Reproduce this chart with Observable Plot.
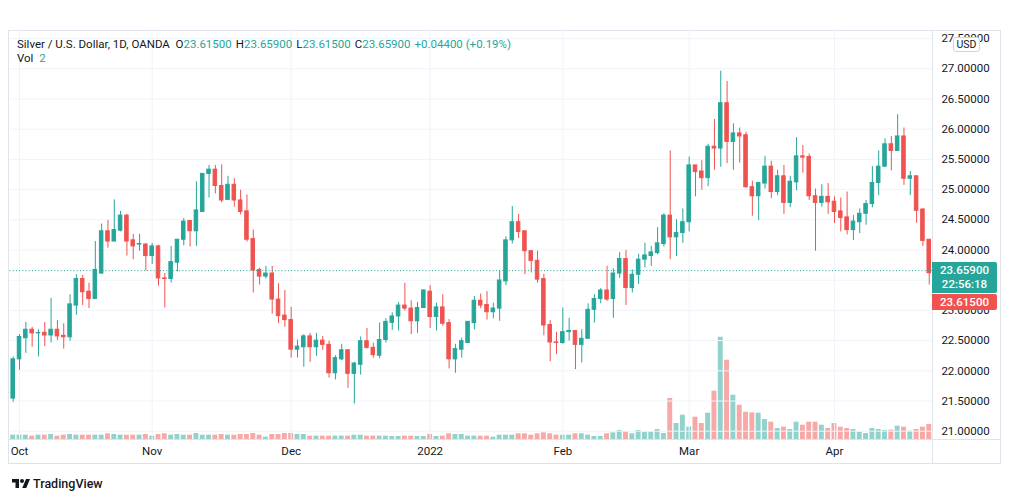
<!DOCTYPE html>
<html><head><meta charset="utf-8">
<script src="https://cdn.jsdelivr.net/npm/d3@7"></script>
<script src="https://cdn.jsdelivr.net/npm/@observablehq/plot@0.6"></script>
<style>
body{margin:0;background:#fff;width:1012px;height:501px;position:relative;overflow:hidden;font-family:Roboto,"Noto Sans",sans-serif;color:#131722}
.abs{position:absolute}
#hdr{left:17px;top:37px;font-size:11.5px;white-space:nowrap;line-height:14px}
#hdr .v{color:#26a69a}
#hdr .k{margin-left:4px}
.box{position:absolute;left:932px;width:65px;color:#fff;font-size:11.5px;font-weight:500;text-align:center;line-height:14px;border-radius:0 2px 2px 0}
</style></head><body>
<div class="abs" style="left:8px;top:30px;width:993px;height:434px;border:1px solid #e0e3eb;box-sizing:border-box"></div>
<div class="abs" style="left:932px;top:30px;width:1px;height:434px;background:#e0e3eb"></div>
<div class="abs" style="left:8px;top:439px;width:993px;height:1px;background:#e0e3eb"></div>
<div id="vol" class="abs" style="left:8px;top:30px"></div>
<div id="main" class="abs" style="left:8px;top:30px"></div>
<div id="hdr" class="abs"></div>
<div class="box" style="top:262px;height:31px;background:#26a69a;padding-top:1px;box-sizing:border-box" id="curBox"></div>
<div class="box" style="top:294px;height:16px;background:#ef5350;line-height:16px" id="prevBox"></div>
<div class="abs" style="left:953px;top:37px;width:27px;height:15px;border:1px solid #d1d4dc;border-radius:3px;background:#fff;font-size:10.5px;line-height:13px;text-align:center;box-sizing:border-box">USD</div>
<div class="abs" style="left:12px;top:476px;width:100px;height:16px">
<svg width="18" height="14" viewBox="0 0 36 28" style="position:absolute;left:0;top:1px"><path d="M14 22H7V11H0V4h14v18z" fill="#131722"/><circle cx="20" cy="8" r="4" fill="#131722"/><path d="M28 4h8l-7.5 18H20.5L28 4z" fill="#131722"/></svg>
<span style="position:absolute;left:21px;top:0;font-size:12.5px;line-height:16px;font-weight:500">TradingView</span>
</div>
<script>
// ---- data ----
const startDate = "2021-09-30";
const holidays = ["2021-12-24"];
const open  = [21.54,22.19,22.54,22.68,22.62,22.63,22.585,22.68,22.58,22.555,23.08,23.52,23.31,23.19,23.61,24.31,24.14,24.32,24.57,24.16,24.09,24.09,23.90,24.06,23.53,23.52,23.79,24.17,24.48,24.31,24.63,25.26,25.33,25.06,24.83,25.08,24.82,24.64,24.18,23.67,23.56,23.61,23.18,22.915,22.84,22.35,22.39,22.57,22.39,22.50,22.43,21.96,22.19,22.34,21.95,22.10,22.49,22.38,22.25,22.51,22.795,22.90,23.08,23.03,22.82,23.04,23.31,22.89,23.05,22.79,22.19,22.35,22.46,22.79,23.16,23.09,22.97,23.03,23.48,24.16,24.46,24.31,23.98,23.82,23.52,22.76,22.47,22.46,22.64,22.66,22.43,22.53,23.01,23.19,23.33,23.19,23.61,23.85,23.37,23.59,23.84,23.90,23.95,24.10,24.57,24.21,24.28,24.46,25.40,25.30,25.19,25.71,25.68,26.43,25.79,25.93,25.90,25.04,24.89,25.10,25.38,24.96,25.22,24.78,25.12,25.55,25.54,24.89,24.78,24.88,24.80,24.64,24.54,24.33,24.46,24.60,24.76,25.11,25.38,25.75,25.64,25.88,25.18,25.22,24.67,24.17];
const high  = [22.23,22.60,22.80,22.72,22.68,22.80,23.20,22.83,22.78,23.26,23.59,23.58,23.45,24.14,24.43,24.49,24.83,24.64,24.59,24.26,24.26,24.11,24.11,24.08,23.61,24.06,24.17,24.52,24.49,25.13,25.26,25.40,25.40,25.41,25.22,25.18,24.99,24.91,24.33,23.70,23.73,23.73,23.44,23.33,23.05,22.51,22.60,22.62,22.62,22.57,22.49,22.25,22.44,22.35,22.14,22.56,22.70,22.46,22.79,22.86,22.96,23.13,23.45,23.16,23.13,23.34,23.41,23.12,23.26,22.85,22.44,22.54,22.82,23.23,23.27,23.31,23.12,23.65,24.22,24.72,24.59,24.31,23.98,23.98,23.60,22.83,22.64,23.04,22.87,22.66,22.68,23.11,23.26,23.36,23.73,23.69,23.96,23.99,23.67,23.93,24.11,24.06,24.37,24.60,25.64,24.50,24.68,25.54,25.40,25.48,25.75,26.16,26.96,26.79,26.09,26.02,25.95,25.14,25.12,25.55,25.47,25.32,25.40,25.22,25.86,25.73,25.59,25.01,25.08,25.10,24.88,24.86,24.96,24.57,24.68,24.82,25.38,25.64,25.84,25.88,26.24,26.02,25.30,25.22,24.69,24.17];
const low   = [21.48,22.01,22.29,22.39,22.23,22.40,22.46,22.50,22.36,22.49,22.92,23.08,23.03,23.19,23.60,24.03,24.14,24.30,23.90,23.84,23.98,23.65,23.76,23.40,23.04,23.45,23.64,24.07,24.05,24.06,24.62,24.86,24.93,24.78,24.83,24.71,24.58,24.13,23.29,23.42,23.52,22.94,22.78,22.72,22.21,22.21,22.06,22.14,22.24,22.34,21.88,21.85,22.17,21.71,21.45,21.93,22.36,22.21,22.20,22.46,22.67,22.66,22.99,22.60,22.62,23.03,22.70,22.66,22.74,22.03,21.96,22.21,22.46,22.68,23.03,22.84,22.86,22.82,23.41,24.10,24.19,23.59,23.62,23.45,22.58,22.15,22.27,22.44,22.49,22.02,22.13,22.53,22.79,23.11,23.15,22.87,23.53,23.08,23.29,23.43,23.70,23.73,23.92,24.05,23.84,23.89,24.11,24.30,24.88,24.99,25.05,25.32,25.37,25.43,25.32,25.44,25.02,24.56,24.49,25.01,24.85,24.90,24.59,24.70,24.98,25.27,24.82,23.98,24.71,24.59,24.44,24.30,24.25,24.16,24.27,24.41,24.70,24.90,25.37,25.31,25.64,25.07,24.90,24.44,24.06,23.42];
const close = [22.19,22.56,22.68,22.62,22.625,22.585,22.68,22.57,22.555,23.10,23.52,23.30,23.19,23.67,24.31,24.14,24.33,24.57,24.14,24.06,24.10,23.90,24.06,23.53,23.52,23.80,24.17,24.47,24.31,24.655,25.26,25.33,25.06,24.82,25.08,24.82,24.63,24.17,23.66,23.56,23.61,23.18,22.905,22.84,22.35,22.40,22.57,22.39,22.50,22.43,21.96,22.21,22.34,21.95,22.12,22.49,22.38,22.26,22.51,22.81,22.90,23.08,23.03,22.82,23.04,23.33,22.89,23.05,22.78,22.19,22.36,22.49,22.81,23.16,23.08,22.97,23.03,23.495,24.16,24.46,24.30,23.98,23.82,23.51,22.75,22.47,22.46,22.64,22.66,22.43,22.53,23.01,23.19,23.33,23.18,23.61,23.85,23.37,23.59,23.84,23.91,23.96,24.11,24.57,24.21,24.28,24.46,25.40,25.29,25.19,25.71,25.68,26.43,25.79,25.93,25.88,25.04,24.89,25.11,25.38,24.96,25.22,24.78,25.13,25.55,25.53,24.89,24.78,24.88,24.79,24.63,24.53,24.33,24.47,24.60,24.76,25.11,25.38,25.75,25.64,25.88,25.18,25.22,24.65,24.15,23.615];
const volume = [13,13,13,10,13,13,15,10,13,15,13,13,13,13,13,17,15,13,13,13,13,15,10,15,17,13,15,13,13,18,13,13,13,15,13,13,15,15,18,13,7,15,15,18,18,15,15,10,10,10,10,10,10,10,13,13,10,10,10,10,9,9,10,10,9,9,15,9,10,17,15,15,10,10,10,10,7,13,13,13,17,17,13,17,20,17,13,13,13,17,17,13,9,9,17,20,27,23,17,27,22,23,30,18,123,48,73,37,67,48,79,145,307,238,133,103,82,80,79,60,52,33,37,30,52,43,52,52,43,33,48,37,33,30,22,18,33,30,27,28,40,37,25,30,37,45];
const yTicks = [21,21.5,22,22.5,23,23.5,24,24.5,25,25.5,26,26.5,27,27.5];
const hiddenLabels = [23.5]; // covered by the live price box in the reference
const monthNames = ["Jan","Feb","Mar","Apr","May","Jun","Jul","Aug","Sep","Oct","Nov","Dec"];
const lastBar = {open:23.615, high:23.659, low:23.615, close:23.659, change:0.044, pct:0.19, vol:2, countdown:"22:56:18", prevClose:23.615};

// ---- build trading-day categories ----
const dates = [];
for (let d = new Date(startDate + "T00:00:00Z"); dates.length < open.length; d = d3.utcDay.offset(d, 1)) {
  const s = d.toISOString().slice(0,10);
  if (d.getUTCDay() === 0 || d.getUTCDay() === 6 || holidays.includes(s)) continue;
  dates.push(s);
}
const data = dates.map((date,i) => ({date, open:open[i], high:high[i], low:low[i], close:close[i], volume:volume[i], up: close[i] >= open[i]}));
const monthTicks = dates.filter((d,i) => i > 0 && d.slice(5,7) !== dates[i-1].slice(5,7));
const tickLabel = d => d.slice(5,7) === "01" ? d.slice(0,4) : monthNames[+d.slice(5,7)-1];

const UP = "#26a69a", DOWN = "#ef5350";
const W = 994, H = 434, ML = 1.54, MR = 70.1, MT = 0, MB = 25;
const xOpt = {type:"band", domain: dates, padding: 0, axis: null};

// volume pane (behind)
const vol = Plot.plot({
  width: W, height: H, marginLeft: ML, marginRight: MR, marginTop: MT, marginBottom: MB,
  style: {background:"transparent", overflow:"visible"},
  x: xOpt,
  y: {domain:[0, 1228], axis: null},
  marks: [
    Plot.barY(data, {x:"date", y:"volume", fill: d => d.up ? "rgba(38,166,154,0.5)" : "rgba(239,83,80,0.5)", insetLeft: 0.7, insetRight: 0.7})
  ]
});
document.getElementById("vol").appendChild(vol);

const main = Plot.plot({
  width: W, height: H, marginLeft: ML, marginRight: MR, marginTop: MT, marginBottom: MB,
  style: {background:"transparent", overflow:"visible", fontFamily:"Roboto, 'Noto Sans', sans-serif", fontSize:"11.5px", color:"#131722"},
  x: {...xOpt, label: null},
  y: {domain:[20.863, 27.634], axis: null, label: null},
  marks: [
    Plot.gridY(yTicks, {stroke:"#f0f3fa", strokeOpacity:1}),
    Plot.gridX(monthTicks, {stroke:"#f0f3fa", strokeOpacity:1}),
    Plot.ruleX(data, {x:"date", y1:"low", y2:"high", stroke: d => d.up ? UP : DOWN, strokeWidth: 1}),
    Plot.barY(data, {x:"date", y1:"open", y2:"close", fill: d => d.up ? UP : DOWN, stroke: d => d.up ? UP : DOWN, strokeWidth: 1, insetLeft: 1.4, insetRight: 1.4}),
    Plot.ruleY([lastBar.close], {stroke: UP, strokeDasharray: "1,2.2", strokeWidth: 1}),
    Plot.axisY(yTicks.filter(t => !hiddenLabels.includes(t)), {anchor:"right", tickSize:0, tickPadding:9, tickFormat: d => d.toFixed(5), fill:"#131722", label: null}),
    Plot.axisX(monthTicks, {anchor:"bottom", tickSize:0, tickPadding:7, tickFormat: tickLabel, fill:"#131722", label: null,
      fontWeight: d => d.slice(5,7) === "01" ? "bold" : "normal"})
  ]
});
document.getElementById("main").appendChild(main);

// header legend
const f5 = v => v.toFixed(5);
document.getElementById("hdr").innerHTML =
  `Silver / U.S. Dollar, 1D, OANDA&nbsp;&nbsp;<span>O</span><span class="v">${f5(lastBar.open)}</span>` +
  `<span class="k">H</span><span class="v">${f5(lastBar.high)}</span>` +
  `<span class="k">L</span><span class="v">${f5(lastBar.low)}</span>` +
  `<span class="k">C</span><span class="v">${f5(lastBar.close)}</span>` +
  `<span class="v k">+${f5(lastBar.change)} (+${lastBar.pct.toFixed(2)}%)</span>` +
  `<br>Vol&nbsp;&nbsp;<span class="v">${lastBar.vol}</span>`;
document.getElementById("curBox").innerHTML = `${f5(lastBar.close)}<br>${lastBar.countdown}`;
document.getElementById("prevBox").textContent = f5(lastBar.prevClose);
</script>
</body></html>
